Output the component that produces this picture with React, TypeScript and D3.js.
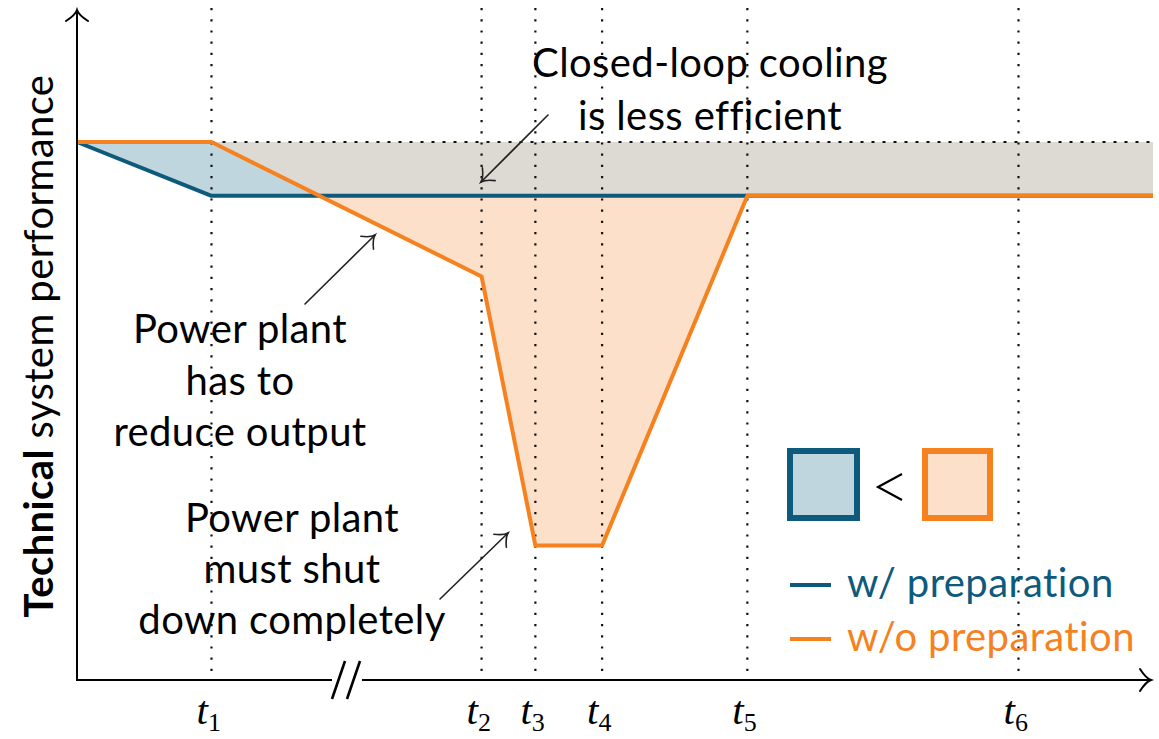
import React from 'react';
import * as d3 from 'd3';

// ---- data ----
const tickTimes = [1.25, 3.76, 4.26, 4.88, 6.23, 8.75];
const tickNames = ['1', '2', '3', '4', '5', '6'];
const knotTimes = [0, 1.25, 3.76, 4.26, 4.88, 6.23, 10];
const withPrep = [1, 0.9, 0.9, 0.9, 0.9, 0.9, 0.9];
const withoutPrep = [1, 1, 0.75, 0.25, 0.25, 0.9, 0.9];
const nominal = 1;
const breakAt = 2.5;
const seriesNames = ['w/ preparation', 'w/o preparation'];

const W = 1159;
const H = 739;
const BLUE = '#0d5a7d';
const ORANGE = '#f5821f';
const BLUE_FILL = '#c0d6df';
const ORANGE_FILL = '#fce0c9';
const GRAY_FILL = '#dddad3';
const SANS = 'Lato, "Open Sans", sans-serif';

const x = d3.scaleLinear().domain([0, 10]).range([77, 1153]);
const y = d3.scaleLinear().domain([0, 1]).range([680, 142]);

const fWith = d3.scaleLinear().domain(knotTimes).range(withPrep);
const fWithout = d3.scaleLinear().domain(knotTimes).range(withoutPrep);

// crossing of the two curves
function crossing(): number {
  for (let i = 0; i < knotTimes.length - 1; i++) {
    const a = knotTimes[i], b = knotTimes[i + 1];
    const da = fWithout(a) - fWith(a);
    const db = fWithout(b) - fWith(b);
    if (da > 0 && db < 0) return a + (da / (da - db)) * (b - a);
  }
  return knotTimes[1];
}

function arrowHead(tx: number, ty: number, ang: number, L = 11, w = 9) {
  const dx = Math.cos(ang), dy = Math.sin(ang);
  const nx = -dy, ny = dx;
  const p1 = [tx - L * dx + w * nx, ty - L * dy + w * ny];
  const p2 = [tx - L * dx - w * nx, ty - L * dy - w * ny];
  const c1 = [tx - 0.45 * L * dx + 0.15 * w * nx, ty - 0.45 * L * dy + 0.15 * w * ny];
  const c2 = [tx - 0.45 * L * dx - 0.15 * w * nx, ty - 0.45 * L * dy - 0.15 * w * ny];
  return `M${p1[0]},${p1[1]}Q${c1[0]},${c1[1]} ${tx},${ty}Q${c2[0]},${c2[1]} ${p2[0]},${p2[1]}`;
}

function Arrow({ x1, y1, x2, y2 }: { x1: number; y1: number; x2: number; y2: number }) {
  const ang = Math.atan2(y2 - y1, x2 - x1);
  return (
    <g stroke="#222" strokeWidth={1.6} fill="none" strokeLinecap="round">
      <line x1={x1} y1={y1} x2={x2} y2={y2} />
      <path d={arrowHead(x2, y2, ang)} />
    </g>
  );
}

export default function App() {
  const xi = crossing();
  const pathOf = (vals: number[]) =>
    d3.line<number>().x((_, i) => x(knotTimes[i])).y((v) => y(v))(vals) as string;

  const areaBetween = (ts: number[], lo: (t: number) => number, hi: (t: number) => number) =>
    d3.area<number>().x((t) => x(t)).y0((t) => y(lo(t))).y1((t) => y(hi(t)))(ts) as string;

  const grayTs = knotTimes.filter((t) => t >= knotTimes[1]);
  const blueTs = [0, knotTimes[1], xi];
  const orangeTs = [xi, ...knotTimes.filter((t) => t > xi && t <= tickTimes[4])];

  const axisY = y(0);
  const gapL = x(breakAt) - 14;
  const gapR = x(breakAt) + 16;

  const txt = { fontFamily: SANS, fontSize: 40, letterSpacing: 0.4 } as const;

  return (
    <svg width={W} height={H} style={{ position: 'absolute', left: 0, top: 0, background: '#fff' }}>
      {/* fills */}
      <path d={areaBetween(grayTs, fWith, () => nominal)} fill={GRAY_FILL} />
      <path d={areaBetween(blueTs, fWith, fWithout)} fill={BLUE_FILL} />
      <path d={areaBetween(orangeTs, fWith, fWithout)} fill={ORANGE_FILL} />

      {/* dotted guide lines */}
      {tickTimes.map((t, i) => (
        <line key={i} x1={x(t)} x2={x(t)} y1={8} y2={axisY} stroke="#111" strokeWidth={2.2}
          strokeDasharray="2.2 9" />
      ))}
      <line x1={x(knotTimes[1])} x2={x(10)} y1={y(nominal)} y2={y(nominal)} stroke="#111"
        strokeWidth={2} strokeDasharray="3 8" />

      {/* series lines */}
      <path d={pathOf(withPrep)} fill="none" stroke={BLUE} strokeWidth={4} strokeLinejoin="round" />
      <path d={pathOf(withoutPrep)} fill="none" stroke={ORANGE} strokeWidth={4} strokeLinejoin="round" />

      {/* axes */}
      <g stroke="#000" strokeWidth={2} fill="none">
        <line x1={x(0)} y1={axisY + 1} x2={x(0)} y2={10} />
        <path d={arrowHead(x(0), 10, -Math.PI / 2, 11, 11)} strokeLinecap="round" />
        <line x1={x(0) - 1} y1={axisY} x2={gapL} y2={axisY} />
        <line x1={gapR} y1={axisY} x2={1151} y2={axisY} />
        <path d={arrowHead(1151, axisY, 0, 11, 11)} strokeLinecap="round" />
        <line x1={gapL} y1={axisY + 19} x2={gapL + 13} y2={axisY - 19} strokeWidth={2.6} />
        <line x1={gapL + 15} y1={axisY + 19} x2={gapL + 28} y2={axisY - 19} strokeWidth={2.6} />
      </g>

      {/* tick labels */}
      {tickTimes.map((t, i) => (
        <text key={i} x={x(t) - 15} y={724} fontFamily='"Liberation Serif", serif' fontStyle="italic"
          fontSize={41} fill="#000">
          t<tspan fontStyle="normal" fontSize={26} dy={7}>{tickNames[i]}</tspan>
        </text>
      ))}

      {/* y axis label */}
      <text transform={`translate(53,346) rotate(-90)`} textAnchor="middle" {...txt} fill="#000">
        <tspan fontWeight="bold">Technical</tspan> system performance
      </text>

      {/* annotations */}
      <g {...txt} fill="#000" textAnchor="middle">
        <text x={710} y={77}>Closed-loop cooling</text>
        <text x={710} y={130}>is less efficient</text>
        <text x={240} y={343}>Power plant</text>
        <text x={240} y={395}>has to</text>
        <text x={240} y={446}>reduce output</text>
        <text x={292} y={532}>Power plant</text>
        <text x={292} y={583}>must shut</text>
        <text x={292} y={634}>down completely</text>
      </g>
      <Arrow x1={548} y1={115} x2={481} y2={182} />
      <Arrow x1={305} y1={304} x2={375} y2={235} />
      <Arrow x1={440} y1={599} x2={508} y2={533} />

      {/* legend */}
      <rect x={790} y={451} width={67} height={67} fill={BLUE_FILL} stroke={BLUE} strokeWidth={6} />
      <rect x={925} y={451} width={65} height={67} fill={ORANGE_FILL} stroke={ORANGE} strokeWidth={6} />
      <polyline points="902,474 878,487 902,500" fill="none" stroke="#000" strokeWidth={2.2} />
      <line x1={790} x2={831} y1={585} y2={585} stroke={BLUE} strokeWidth={4} />
      <line x1={790} x2={831} y1={639} y2={639} stroke={ORANGE} strokeWidth={4} />
      <text x={847} y={597} {...txt} fill={BLUE}>{seriesNames[0]}</text>
      <text x={847} y={651} {...txt} fill={ORANGE}>{seriesNames[1]}</text>
    </svg>
  );
}
